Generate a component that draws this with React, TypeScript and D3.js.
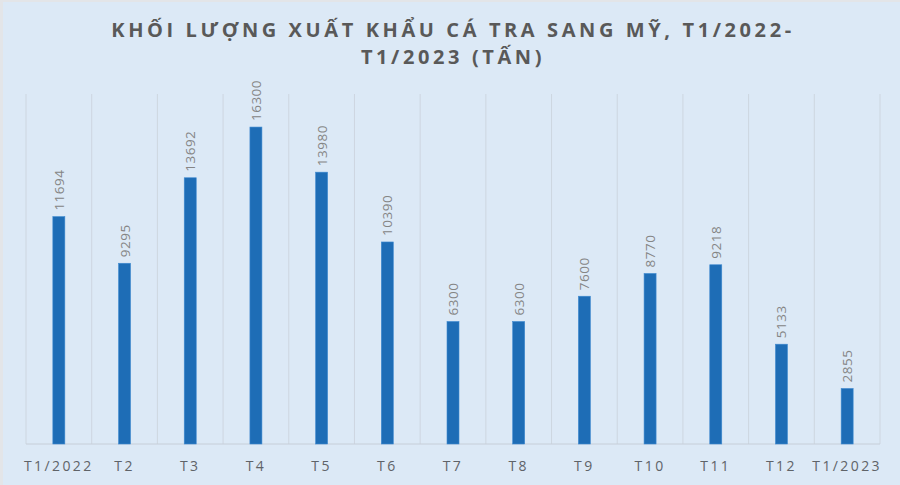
import * as d3 from "d3";

const months = ["T1/2022", "T2", "T3", "T4", "T5", "T6", "T7", "T8", "T9", "T10", "T11", "T12", "T1/2023"];
const volumes = [11694, 9295, 13692, 16300, 13980, 10390, 6300, 6300, 7600, 8770, 9218, 5133, 2855];
const titleLines = ["KHỐI LƯỢNG XUẤT KHẨU CÁ TRA SANG MỸ, T1/2022-", "T1/2023 (TẤN)"];

export default function App({
  width = 900,
  height = 485,
  marginTop = 94,
  marginRight = 20,
  marginBottom = 41,
  marginLeft = 26,
}) {
  const x = d3
    .scaleBand<string>()
    .domain(months)
    .range([marginLeft, width - marginRight]);

  const y = d3
    .scaleLinear()
    .domain([0, 18000])
    .range([height - marginBottom, marginTop]);

  const barW = 12;
  const bottom = height - marginBottom;

  return (
    <div style={{ position: "absolute", left: 0, top: 0 }}>
      <svg width={width} height={height} style={{ display: "block" }}>
        <rect x={0} y={0} width={width} height={height} fill="#dce9f6" />
        <rect x={0} y={0} width={3} height={height} fill="#e3e5e8" />
        <rect x={0} y={0} width={width} height={2} fill="#e3e5e8" />

        {titleLines.map((t, i) => (
          <text
            key={i}
            x={453}
            y={37 + i * 27}
            textAnchor="middle"
            fontFamily="'Open Sans', sans-serif"
            fontWeight="bold"
            fontSize={20}
            letterSpacing={3.6}
            fill="#595959"
          >
            {t}
          </text>
        ))}

        {/* vertical gridlines at category boundaries */}
        {d3.range(months.length + 1).map((i) => {
          const gx = marginLeft + i * x.step();
          return (
            <line key={i} x1={gx} x2={gx} y1={marginTop} y2={bottom} stroke="#cdd6e0" strokeWidth={1} />
          );
        })}
        <line x1={marginLeft} x2={width - marginRight} y1={bottom} y2={bottom} stroke="#c6ced8" strokeWidth={1} />

        {months.map((m, i) => {
          const cx = x(m)! + x.bandwidth() / 2;
          const top = y(volumes[i]);
          return (
            <g key={m}>
              <rect
                x={cx - barW / 2}
                y={top}
                width={barW}
                height={bottom - top}
                fill="#1e6db6"
                stroke="#3f8ad0"
                strokeWidth={0.6}
              />
              <text
                transform={`translate(${cx + 5},${top - 6}) rotate(-90)`}
                fontFamily="'Open Sans', sans-serif"
                fontSize={13.5}
                letterSpacing={0.5}
                fill="#858585"
              >
                {volumes[i]}
              </text>
              <text
                x={cx}
                y={471}
                textAnchor="middle"
                fontFamily="'Open Sans', sans-serif"
                fontSize={14}
                letterSpacing={2.4}
                fill="#5f6368"
              >
                {m}
              </text>
            </g>
          );
        })}
      </svg>
    </div>
  );
}
